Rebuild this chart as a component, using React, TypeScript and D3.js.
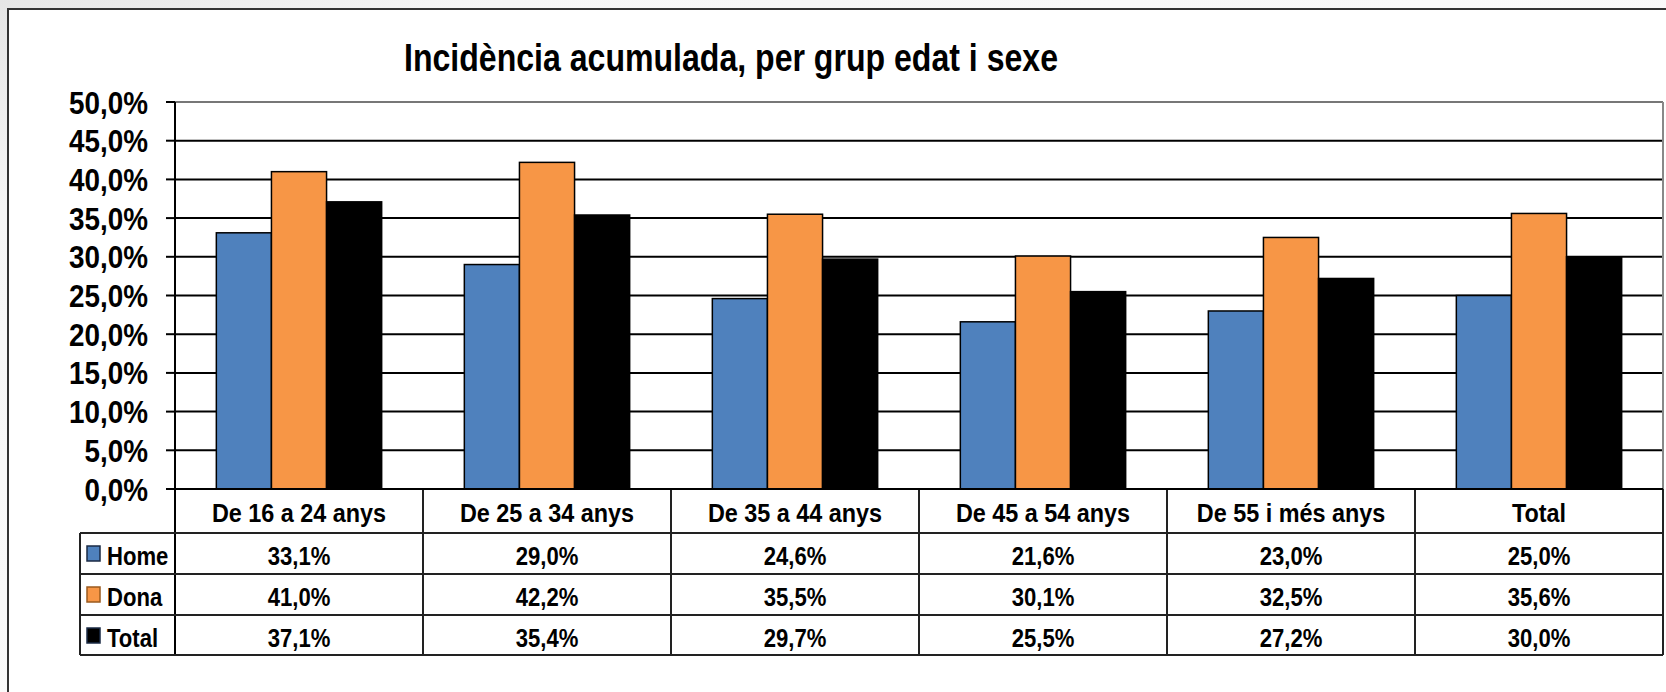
import React from "react";
import * as d3 from "d3";

const categories = [
  "De 16 a 24 anys",
  "De 25 a 34 anys",
  "De 35 a 44 anys",
  "De 45 a 54 anys",
  "De 55 i més anys",
  "Total",
];
const seriesNames = ["Home", "Dona", "Total"];
const homeValues = [33.1, 29.0, 24.6, 21.6, 23.0, 25.0];
const donaValues = [41.0, 42.2, 35.5, 30.1, 32.5, 35.6];
const totalValues = [37.1, 35.4, 29.7, 25.5, 27.2, 30.0];
const seriesColors = ["#4F81BD", "#F79646", "#000000"];
const yTicks = [0, 5, 10, 15, 20, 25, 30, 35, 40, 45, 50];
const title = "Incidència acumulada, per grup edat i sexe";

const W = 1666;
const H = 692;
const FONT = "'Liberation Sans', Arial, sans-serif";

const fmt = (v: number) => d3.format(".1f")(v).replace(".", ",") + "%";

export default function App() {
  const plotLeft = 175;
  const plotRight = 1663;
  const plotTop = 102;
  const plotBottom = 489;
  const rowLines = [533, 574, 615, 655];
  const legendLeft = 80;

  const x0 = d3.scaleBand<string>().domain(categories).range([plotLeft, plotRight]).padding(0);
  const x1 = d3
    .scaleBand<string>()
    .domain(seriesNames)
    .range([0, x0.bandwidth()])
    .paddingInner(0)
    .paddingOuter(0.75);
  const y = d3.scaleLinear().domain([0, 50]).range([plotBottom, plotTop]);

  const allSeries = [homeValues, donaValues, totalValues];

  const scaledText = (
    x: number,
    yb: number,
    txt: string,
    size: number,
    sx: number,
    anchor: "start" | "middle" | "end",
    key?: string
  ) => (
    <g key={key} transform={`translate(${x},${yb}) scale(${sx},1)`}>
      <text
        x={0}
        y={0}
        textAnchor={anchor}
        fontFamily={FONT}
        fontWeight="bold"
        fontSize={size}
        fill="#000"
      >
        {txt}
      </text>
    </g>
  );

  const rowsTop = [rowLines[0], rowLines[1], rowLines[2]];

  return (
    <svg
      width={W}
      height={H}
      style={{ position: "absolute", left: 0, top: 0, display: "block" }}
    >
      <defs>
        <linearGradient id="bgGrad" x1="0" y1="0" x2="1" y2="1">
          <stop offset="0" stopColor="#e6e6e6" />
          <stop offset="0.15" stopColor="#f6f6f6" />
          <stop offset="1" stopColor="#ffffff" />
        </linearGradient>
      </defs>
      <rect x={0} y={0} width={W} height={H} fill="url(#bgGrad)" />
      {/* outer frame */}
      <rect x={8} y={9} width={W + 20} height={H + 20} fill="#fff" stroke="#333" strokeWidth={2} />

      {/* title */}
      <text
        x={731}
        y={71}
        textAnchor="middle"
        fontFamily={FONT}
        fontWeight="bold"
        fontSize={39}
        textLength={654}
        lengthAdjust="spacingAndGlyphs"
      >
        {title}
      </text>

      {/* gridlines */}
      {yTicks.map((t) => (
        <line
          key={"g" + t}
          x1={plotLeft}
          x2={plotRight}
          y1={y(t)}
          y2={y(t)}
          stroke={t === 50 ? "#777" : "#000"}
          strokeWidth={2}
        />
      ))}
      {/* ticks */}
      {yTicks.map((t) => (
        <line key={"t" + t} x1={166} x2={plotLeft} y1={y(t)} y2={y(t)} stroke="#000" strokeWidth={2} />
      ))}
      {/* right border of plot */}
      <line x1={plotRight} x2={plotRight} y1={plotTop} y2={plotBottom} stroke="#888" strokeWidth={2} />

      {/* y labels */}
      {yTicks.map((t) => scaledText(148, y(t) + 11.5, fmt(t), 32, 0.87, "end", "yl" + t))}

      {/* bars */}
      {categories.map((c, ci) => (
        <g key={"c" + ci}>
          {seriesNames.map((s, si) => {
            const v = allSeries[si][ci];
            const bx = (x0(c) as number) + (x1(s) as number);
            return (
              <rect
                key={s}
                x={bx}
                y={y(v)}
                width={x1.bandwidth()}
                height={plotBottom - y(v)}
                fill={seriesColors[si]}
                stroke="#000"
                strokeWidth={1.5}
              />
            );
          })}
        </g>
      ))}

      {/* axis line */}
      <line x1={plotLeft} x2={plotLeft} y1={plotTop} y2={rowLines[3]} stroke="#000" strokeWidth={2} />

      {/* table grid */}
      {categories.map((c, ci) => (
        <line
          key={"v" + ci}
          x1={(x0(c) as number) + x0.bandwidth()}
          x2={(x0(c) as number) + x0.bandwidth()}
          y1={plotBottom}
          y2={rowLines[3]}
          stroke="#222"
          strokeWidth={2}
        />
      ))}
      <line x1={plotLeft} x2={plotRight} y1={plotBottom} y2={plotBottom} stroke="#000" strokeWidth={2} />
      {rowLines.map((ry, i) => (
        <line key={"r" + i} x1={legendLeft} x2={plotRight} y1={ry} y2={ry} stroke="#222" strokeWidth={2} />
      ))}
      <line x1={legendLeft} x2={legendLeft} y1={rowLines[0]} y2={rowLines[3]} stroke="#222" strokeWidth={2} />

      {/* header labels */}
      {categories.map((c) =>
        scaledText((x0(c) as number) + x0.bandwidth() / 2, 522, c, 26, 0.9, "middle", "h" + c)
      )}

      {/* legend cells */}
      {seriesNames.map((s, si) => (
        <g key={"lg" + s}>
          <rect
            x={87}
            y={rowsTop[si] + 13}
            width={13}
            height={15}
            fill={seriesColors[si]}
            stroke={si === 1 ? "#9a5a1e" : "#1a2a44"}
            strokeWidth={1.5}
          />
          {scaledText(107, rowsTop[si] + 32, s, 26, 0.85, "start", "lt" + s)}
        </g>
      ))}

      {/* values */}
      {seriesNames.map((s, si) =>
        categories.map((c, ci) =>
          scaledText(
            (x0(c) as number) + x0.bandwidth() / 2,
            rowsTop[si] + 32,
            fmt(allSeries[si][ci]),
            26,
            0.85,
            "middle",
            "v" + si + "-" + ci
          )
        )
      )}
    </svg>
  );
}
